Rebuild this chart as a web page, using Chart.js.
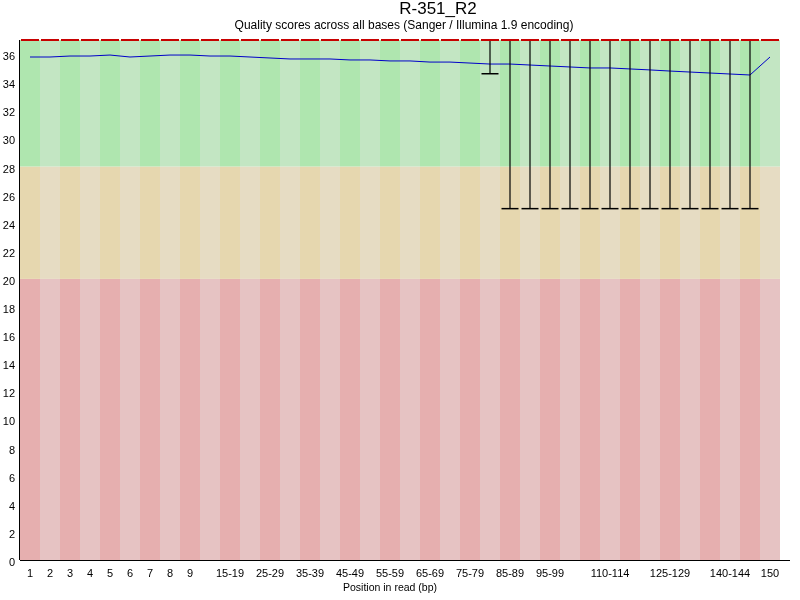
<!DOCTYPE html>
<html>
<head>
<meta charset="utf-8">
<script src="https://cdn.jsdelivr.net/npm/chart.js@4/dist/chart.umd.min.js"></script>
<style>
html,body{margin:0;padding:0;background:#fff;}
canvas{display:block;}
</style>
</head>
<body>
<canvas id="c" width="800" height="600"></canvas>
<script>
const categories = ['1','2','3','4','5','6','7','8','9','10-14','15-19','20-24','25-29','30-34','35-39','40-44','45-49','50-54','55-59','60-64','65-69','70-74','75-79','80-84','85-89','90-94','95-99','100-104','105-109','110-114','115-119','120-124','125-129','130-134','135-139','140-144','145-149','150'];
const tickLabels = ['1','2','3','4','5','6','7','8','9','','15-19','','25-29','','35-39','','45-49','','55-59','','65-69','','75-79','','85-89','','95-99','','','110-114','','','125-129','','','140-144','','150'];
const meanValues = [35.79,35.79,35.86,35.86,35.93,35.79,35.86,35.93,35.93,35.86,35.86,35.79,35.72,35.65,35.65,35.65,35.58,35.58,35.51,35.51,35.43,35.43,35.36,35.29,35.29,35.22,35.15,35.08,35.01,35.01,34.94,34.87,34.79,34.72,34.65,34.58,34.51,35.79];
const medianValues = [37,37,37,37,37,37,37,37,37,37,37,37,37,37,37,37,37,37,37,37,37,37,37,37,37,37,37,37,37,37,37,37,37,37,37,37,37,37];
const lowerWhisker = [37,37,37,37,37,37,37,37,37,37,37,37,37,37,37,37,37,37,37,37,37,37,37,34.6,25,25,25,25,25,25,25,25,25,25,25,25,25,37];
const upperWhisker = [37,37,37,37,37,37,37,37,37,37,37,37,37,37,37,37,37,37,37,37,37,37,37,37,37,37,37,37,37,37,37,37,37,37,37,37,37,37];
const zoneLimits = [0, 20, 28, 37];
const zoneColors = [['rgb(230,195,195)','rgb(230,175,175)'],['rgb(230,220,195)','rgb(230,215,175)'],['rgb(195,230,195)','rgb(175,230,175)']];
const titleText = 'R-351_R2';
const subtitleText = 'Quality scores across all bases (Sanger / Illumina 1.9 encoding)';
const xTitleText = 'Position in read (bp)';

const FONT = '"Liberation Sans", Arial, sans-serif';

const bgPlugin = {
  id: 'bg',
  beforeDatasetsDraw(chart) {
    const ctx = chart.ctx, x = chart.scales.x, y = chart.scales.y;
    const w = x.width / categories.length;
    ctx.save();
    for (let i = 0; i < categories.length; i++) {
      const cx = x.getPixelForValue(i);
      const left = cx - w / 2;
      for (let z = 0; z < zoneColors.length; z++) {
        const top = y.getPixelForValue(zoneLimits[z + 1]);
        const bot = y.getPixelForValue(zoneLimits[z]);
        ctx.fillStyle = zoneColors[z][i % 2 === 0 ? 1 : 0];
        ctx.fillRect(left, top, w, bot - top);
      }
    }
    ctx.restore();
  },
  afterDraw(chart) {
    const ctx = chart.ctx, a = chart.chartArea;
    ctx.save();
    ctx.strokeStyle = '#000';
    ctx.lineWidth = 1;
    ctx.beginPath();
    ctx.moveTo(a.left, a.bottom + 0.5);
    ctx.lineTo(chart.width - 10, a.bottom + 0.5);
    ctx.moveTo(a.left - 0.5, a.top);
    ctx.lineTo(a.left - 0.5, a.bottom);
    ctx.stroke();
    ctx.fillStyle = '#000';
    ctx.textAlign = 'center';
    ctx.textBaseline = 'alphabetic';
    ctx.font = '17px ' + FONT;
    ctx.fillText(titleText, 438, 14);
    ctx.font = '12px ' + FONT;
    ctx.fillText(subtitleText, 404, 29);
    ctx.font = '10.5px ' + FONT;
    ctx.fillText(xTitleText, 390, 591);
    ctx.restore();
  }
};

new Chart(document.getElementById('c'), {
  data: {
    labels: categories,
    datasets: [
      {
        type: 'line', label: 'median', data: medianValues,
        showLine: false, pointStyle: 'line', pointRadius: 9, pointHoverRadius: 9,
        pointBorderWidth: 2, borderColor: 'rgb(200,0,0)', pointBorderColor: 'rgb(200,0,0)',
        clip: false, order: 0
      },
      {
        type: 'line', label: 'lowerCap', data: lowerWhisker,
        showLine: false, pointStyle: 'line', pointRadius: 8.5, pointHoverRadius: 8.5,
        pointBorderWidth: 1.5, borderColor: '#000', pointBorderColor: '#000',
        clip: false, order: 1
      },
      {
        type: 'bar', label: 'whisker',
        data: categories.map((c, i) => [lowerWhisker[i], upperWhisker[i]]),
        backgroundColor: '#000', barThickness: 1.2, borderWidth: 0, inflateAmount: 0, order: 2
      },
      {
        type: 'line', label: 'mean', data: meanValues,
        borderColor: 'rgb(0,0,200)', borderWidth: 1, pointRadius: 0, tension: 0,
        fill: false, order: 3
      }
    ]
  },
  options: {
    responsive: false,
    animation: false,
    events: [],
    layout: { padding: { top: 40, right: 20, left: 0, bottom: 0 } },
    plugins: { legend: { display: false }, tooltip: { enabled: false }, title: { display: false } },
    scales: {
      x: {
        type: 'category',
        offset: true,
        grid: { display: false, drawTicks: false },
        border: { display: false },
        ticks: {
          autoSkip: false, maxRotation: 0, minRotation: 0, padding: 7,
          color: '#000', font: { family: FONT, size: 11 },
          callback: (v, i) => tickLabels[i]
        },
        afterFit: (s) => { s.height = 40; }
      },
      y: {
        type: 'linear',
        min: 0, max: 37,
        grid: { display: false, drawTicks: false },
        border: { display: false },
        ticks: {
          stepSize: 2, includeBounds: false, padding: 5, labelOffset: 3,
          color: '#000', font: { family: FONT, size: 11 }
        },
        afterFit: (s) => { s.width = 20; }
      }
    }
  },
  plugins: [bgPlugin]
});
</script>
</body>
</html>
